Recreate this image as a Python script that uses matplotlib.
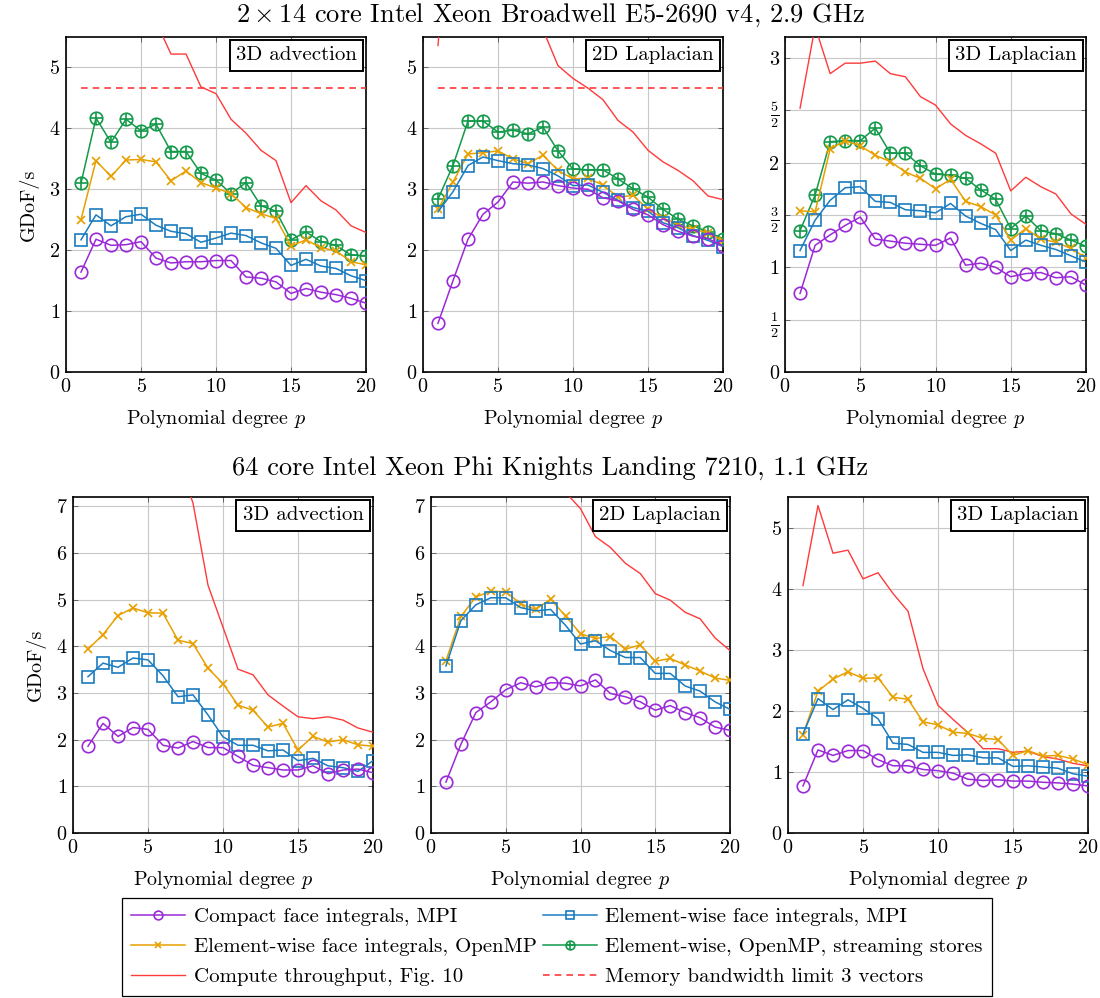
import matplotlib
matplotlib.use("Agg")
import matplotlib.pyplot as plt
from matplotlib.offsetbox import AnchoredText
from matplotlib.legend_handler import HandlerTuple
import numpy as np

plt.rcParams['font.family'] = ['cmr10', 'DejaVu Serif']
plt.rcParams['mathtext.fontset'] = 'cm'
plt.rcParams['axes.formatter.use_mathtext'] = True

p = list(range(1, 21))

# ---- Broadwell, 3D advection ----
bdw_adv_compact = [1.64, 2.18, 2.08, 2.09, 2.14, 1.87, 1.79, 1.81, 1.81, 1.83,
                   1.83, 1.56, 1.54, 1.48, 1.29, 1.37, 1.31, 1.27, 1.21, 1.13]
bdw_adv_mpi = [2.17, 2.58, 2.40, 2.55, 2.59, 2.41, 2.31, 2.27, 2.13, 2.20,
               2.28, 2.24, 2.12, 2.03, 1.75, 1.85, 1.74, 1.70, 1.58, 1.50]
bdw_adv_omp = [2.50, 3.47, 3.21, 3.48, 3.49, 3.45, 3.14, 3.30, 3.11, 3.02,
               2.93, 2.70, 2.60, 2.52, 2.07, 2.17, 2.04, 1.99, 1.81, 1.76]
bdw_adv_stream = [3.10, 4.17, 3.77, 4.15, 3.96, 4.07, 3.62, 3.62, 3.26, 3.15,
                  2.93, 3.11, 2.73, 2.64, 2.17, 2.30, 2.14, 2.08, 1.92, 1.91]
bdw_adv_compute = [9.0, 9.5, 8.0, 7.2, 6.4, 5.75, 5.22, 5.22, 4.68, 4.57,
                   4.15, 3.92, 3.64, 3.47, 2.78, 3.06, 2.81, 2.66, 2.40, 2.29]
bdw_adv_mem = [4.67] * 20

# ---- Broadwell, 2D Laplacian ----
bdw_l2_compact = [0.80, 1.50, 2.18, 2.59, 2.79, 3.12, 3.10, 3.12, 3.06, 3.02,
                  3.00, 2.86, 2.81, 2.67, 2.58, 2.42, 2.31, 2.23, 2.19, 2.07]
bdw_l2_mpi = [2.63, 2.96, 3.39, 3.53, 3.47, 3.42, 3.40, 3.34, 3.22, 3.06,
              3.07, 2.95, 2.82, 2.70, 2.64, 2.45, 2.37, 2.24, 2.16, 2.06]
bdw_l2_omp = [2.67, 3.12, 3.58, 3.60, 3.63, 3.50, 3.42, 3.56, 3.31, 3.17,
              3.18, 3.07, 2.87, 2.90, 2.67, 2.53, 2.42, 2.34, 2.29, 2.15]
bdw_l2_stream = [2.84, 3.39, 4.12, 4.12, 3.94, 3.97, 3.91, 4.02, 3.63, 3.33,
                 3.32, 3.32, 3.17, 3.01, 2.87, 2.67, 2.51, 2.40, 2.30, 2.19]
bdw_l2_compute = [5.36, 8.5, 8.0, 7.5, 7.0, 6.5, 6.1, 5.62, 5.03, 4.82,
                  4.66, 4.47, 4.13, 3.94, 3.64, 3.45, 3.31, 3.14, 2.89, 2.83]
bdw_l2_mem = [4.67] * 20

# ---- Broadwell, 3D Laplacian ----
bdw_l3_compact = [0.75, 1.21, 1.31, 1.40, 1.48, 1.27, 1.25, 1.23, 1.22, 1.21,
                  1.28, 1.02, 1.04, 1.00, 0.91, 0.94, 0.95, 0.90, 0.91, 0.83]
bdw_l3_mpi = [1.16, 1.45, 1.64, 1.76, 1.77, 1.63, 1.62, 1.55, 1.54, 1.52,
              1.61, 1.49, 1.42, 1.36, 1.16, 1.26, 1.21, 1.17, 1.11, 1.05]
bdw_l3_omp = [1.54, 1.53, 2.13, 2.21, 2.16, 2.07, 2.01, 1.91, 1.85, 1.75,
              1.84, 1.63, 1.58, 1.50, 1.26, 1.37, 1.27, 1.24, 1.18, 1.09]
bdw_l3_stream = [1.35, 1.69, 2.20, 2.21, 2.21, 2.33, 2.09, 2.09, 1.97, 1.89,
                 1.88, 1.85, 1.74, 1.65, 1.37, 1.49, 1.35, 1.32, 1.26, 1.20]
bdw_l3_compute = [2.52, 3.30, 2.85, 2.95, 2.95, 2.97, 2.85, 2.82, 2.63, 2.55,
                  2.37, 2.26, 2.18, 2.09, 1.73, 1.86, 1.77, 1.70, 1.51, 1.41]

# ---- KNL, 3D advection ----
knl_adv_compact = [1.86, 2.35, 2.07, 2.26, 2.22, 1.88, 1.82, 1.96, 1.83, 1.83,
                   1.64, 1.45, 1.40, 1.35, 1.35, 1.44, 1.27, 1.35, 1.37, 1.29]
knl_adv_mpi = [3.35, 3.64, 3.55, 3.75, 3.71, 3.37, 2.92, 2.96, 2.53, 2.06,
               1.88, 1.88, 1.76, 1.78, 1.55, 1.60, 1.44, 1.40, 1.32, 1.55]
knl_adv_omp = [3.94, 4.25, 4.66, 4.82, 4.72, 4.71, 4.13, 4.06, 3.53, 3.20,
               2.74, 2.63, 2.27, 2.35, 1.78, 2.07, 1.95, 2.00, 1.89, 1.86]
knl_adv_compute = [11.0, 11.5, 11.0, 10.5, 10.0, 9.0, 8.0, 7.07, 5.31, 4.41,
                   3.51, 3.39, 2.96, 2.72, 2.49, 2.45, 2.49, 2.42, 2.25, 2.16]

# ---- KNL, 2D Laplacian ----
knl_l2_compact = [1.09, 1.90, 2.58, 2.81, 3.07, 3.22, 3.13, 3.22, 3.21, 3.15,
                  3.28, 2.99, 2.92, 2.81, 2.63, 2.73, 2.58, 2.47, 2.27, 2.20]
knl_l2_mpi = [3.58, 4.55, 4.89, 5.04, 5.04, 4.83, 4.76, 4.79, 4.45, 4.05,
              4.12, 3.91, 3.76, 3.76, 3.42, 3.42, 3.15, 3.04, 2.81, 2.65]
knl_l2_omp = [3.69, 4.64, 5.06, 5.18, 5.17, 4.91, 4.79, 5.01, 4.65, 4.27,
              4.17, 4.21, 3.94, 4.03, 3.68, 3.74, 3.60, 3.47, 3.32, 3.27]
knl_l2_compute = [12.0, 12.0, 11.5, 11.0, 10.5, 10.0, 9.2, 8.5, 7.3, 6.95,
                  6.35, 6.12, 5.78, 5.56, 5.13, 4.99, 4.73, 4.59, 4.18, 3.91]

# ---- KNL, 3D Laplacian ----
knl_l3_compact = [0.77, 1.36, 1.27, 1.35, 1.35, 1.20, 1.10, 1.10, 1.04, 1.02,
                  0.98, 0.88, 0.86, 0.87, 0.85, 0.85, 0.83, 0.82, 0.80, 0.77]
knl_l3_mpi = [1.62, 2.20, 2.02, 2.18, 2.04, 1.87, 1.47, 1.45, 1.32, 1.32,
              1.27, 1.28, 1.23, 1.23, 1.09, 1.10, 1.08, 1.06, 0.97, 0.93]
knl_l3_omp = [1.61, 2.32, 2.52, 2.64, 2.53, 2.54, 2.22, 2.19, 1.82, 1.77,
              1.65, 1.63, 1.55, 1.53, 1.27, 1.35, 1.26, 1.27, 1.21, 1.12]
knl_l3_compute = [4.05, 5.36, 4.58, 4.63, 4.16, 4.26, 3.92, 3.63, 2.69, 2.09,
                  1.86, 1.64, 1.38, 1.38, 1.32, 1.34, 1.25, 1.21, 1.14, 1.10]

titles = ["3D advection", "2D Laplacian", "3D Laplacian"]
row_titles = [r"$2\times 14$ core Intel Xeon Broadwell E5-2690 v4, 2.9 GHz",
              "64 core Intel Xeon Phi Knights Landing 7210, 1.1 GHz"]
legend_labels = ["Compact face integrals, MPI", "Element-wise face integrals, MPI",
                 "Element-wise face integrals, OpenMP",
                 "Element-wise, OpenMP, streaming stores",
                 "Compute throughput, Fig. 10", "Memory bandwidth limit 3 vectors"]

C_PURPLE = '#9a2ad8'
C_BLUE = '#1a7cc0'
C_ORANGE = '#e8a000'
C_GREEN = '#12994a'
C_RED = '#ff3a3a'

panels = [
    dict(compact=bdw_adv_compact, mpi=bdw_adv_mpi, omp=bdw_adv_omp, stream=bdw_adv_stream,
         compute=bdw_adv_compute, mem=bdw_adv_mem, ylim=5.5, yticks=[0, 1, 2, 3, 4, 5]),
    dict(compact=bdw_l2_compact, mpi=bdw_l2_mpi, omp=bdw_l2_omp, stream=bdw_l2_stream,
         compute=bdw_l2_compute, mem=bdw_l2_mem, ylim=5.5, yticks=[0, 1, 2, 3, 4, 5]),
    dict(compact=bdw_l3_compact, mpi=bdw_l3_mpi, omp=bdw_l3_omp, stream=bdw_l3_stream,
         compute=bdw_l3_compute, mem=None, ylim=3.2, yticks=[0, 0.5, 1, 1.5, 2, 2.5, 3],
         yticklabels=['0', r'$\frac{1}{2}$', '1', r'$\frac{3}{2}$', '2', r'$\frac{5}{2}$', '3']),
    dict(compact=knl_adv_compact, mpi=knl_adv_mpi, omp=knl_adv_omp, stream=None,
         compute=knl_adv_compute, mem=None, ylim=7.2, yticks=[0, 1, 2, 3, 4, 5, 6, 7]),
    dict(compact=knl_l2_compact, mpi=knl_l2_mpi, omp=knl_l2_omp, stream=None,
         compute=knl_l2_compute, mem=None, ylim=7.2, yticks=[0, 1, 2, 3, 4, 5, 6, 7]),
    dict(compact=knl_l3_compact, mpi=knl_l3_mpi, omp=knl_l3_omp, stream=None,
         compute=knl_l3_compute, mem=None, ylim=5.5, yticks=[0, 1, 2, 3, 4, 5]),
]

W, H = 1100, 998
fig = plt.figure(figsize=(W / 100, H / 100), dpi=100)

boxes = [(66, 37, 366, 372), (423, 37, 723, 372), (785, 37, 1086, 372),
         (73, 497, 373, 833), (431, 497, 730, 833), (788, 497, 1088, 833)]

FS = 14.5
handles = {}
for i, (pan, (x0, y0, x1, y1)) in enumerate(zip(panels, boxes)):
    ax = fig.add_axes([x0 / W, 1 - y1 / H, (x1 - x0) / W, (y1 - y0) / H])
    ax.set_xlim(0, 20)
    ax.set_ylim(0, pan['ylim'])
    ax.set_xticks([0, 5, 10, 15, 20])
    ax.set_yticks(pan['yticks'])
    if 'yticklabels' in pan:
        ax.set_yticklabels(pan['yticklabels'])
    ax.grid(True, color='#c8c8c8', lw=0.8)
    ax.set_axisbelow(True)
    ax.tick_params(direction='in', top=True, right=True, length=3.5, width=0.6,
                   color='#555555', labelsize=FS, pad=4)
    for s in ax.spines.values():
        s.set_linewidth(1.2)
    ax.set_xlabel(r"Polynomial degree $p$", fontsize=FS, labelpad=9)
    if i % 3 == 0:
        ax.set_ylabel("GDoF/s", fontsize=FS, labelpad=7)

    h_compute, = ax.plot(p, pan['compute'], color=C_RED, lw=1.0, zorder=3)
    if pan['mem'] is not None:
        h_mem, = ax.plot(p, pan['mem'], color=C_RED, lw=1.2, ls=(0, (4, 3)), zorder=3)
        handles['mem'] = h_mem
    if pan['stream'] is not None:
        h_s1, = ax.plot(p, pan['stream'], color=C_GREEN, lw=1.1, marker='o', ms=9,
                        mfc='none', mec=C_GREEN, mew=1.2, zorder=4)
        h_s2, = ax.plot(p, pan['stream'], color=C_GREEN, ls='none', marker='+', ms=9,
                        mew=1.2, zorder=4)
        handles['stream'] = (h_s1, h_s2)
    h_omp, = ax.plot(p, pan['omp'], color=C_ORANGE, lw=1.1, marker='x', ms=6, mew=1.2, zorder=5)
    h_mpi, = ax.plot(p, pan['mpi'], color=C_BLUE, lw=1.1, marker='s', ms=8, mfc='none',
                     mec=C_BLUE, mew=1.2, zorder=6)
    h_cmp, = ax.plot(p, pan['compact'], color=C_PURPLE, lw=1.1, marker='o', ms=9, mfc='none',
                     mec=C_PURPLE, mew=1.2, zorder=7)
    handles['compute'] = h_compute
    handles['omp'] = h_omp
    handles['mpi'] = h_mpi
    handles['compact'] = h_cmp

    at = AnchoredText(titles[i % 3], loc='upper right', prop=dict(size=FS + 0.5),
                      frameon=True, borderpad=0.15, pad=0.3)
    at.patch.set_boxstyle('square,pad=0')
    at.patch.set_edgecolor('black')
    at.patch.set_linewidth(1.4)
    at.zorder = 10
    ax.add_artist(at)

fig.text(0.5, 1 - 15 / H, row_titles[0], ha='center', va='center', fontsize=19)
fig.text(0.5, 1 - 468 / H, row_titles[1], ha='center', va='center', fontsize=19)

order = ['compact', 'omp', 'compute', 'mpi', 'stream', 'mem']
lab = [legend_labels[0], legend_labels[2], legend_labels[4],
       legend_labels[1], legend_labels[3], legend_labels[5]]
leg = fig.legend([handles[k] for k in order], lab, ncol=2, loc='center',
                 bbox_to_anchor=(557 / W, 1 - 947 / H), fontsize=FS + 0.5,
                 frameon=True, fancybox=False, edgecolor='black', framealpha=1,
                 handlelength=2.6, columnspacing=0.3, handletextpad=0.4,
                 labelspacing=0.55, borderpad=0.45, markerscale=0.7,
                 handler_map={tuple: HandlerTuple(ndivide=1, pad=0)})
leg.get_frame().set_linewidth(0.9)

fig.savefig("out.png", dpi=100)
